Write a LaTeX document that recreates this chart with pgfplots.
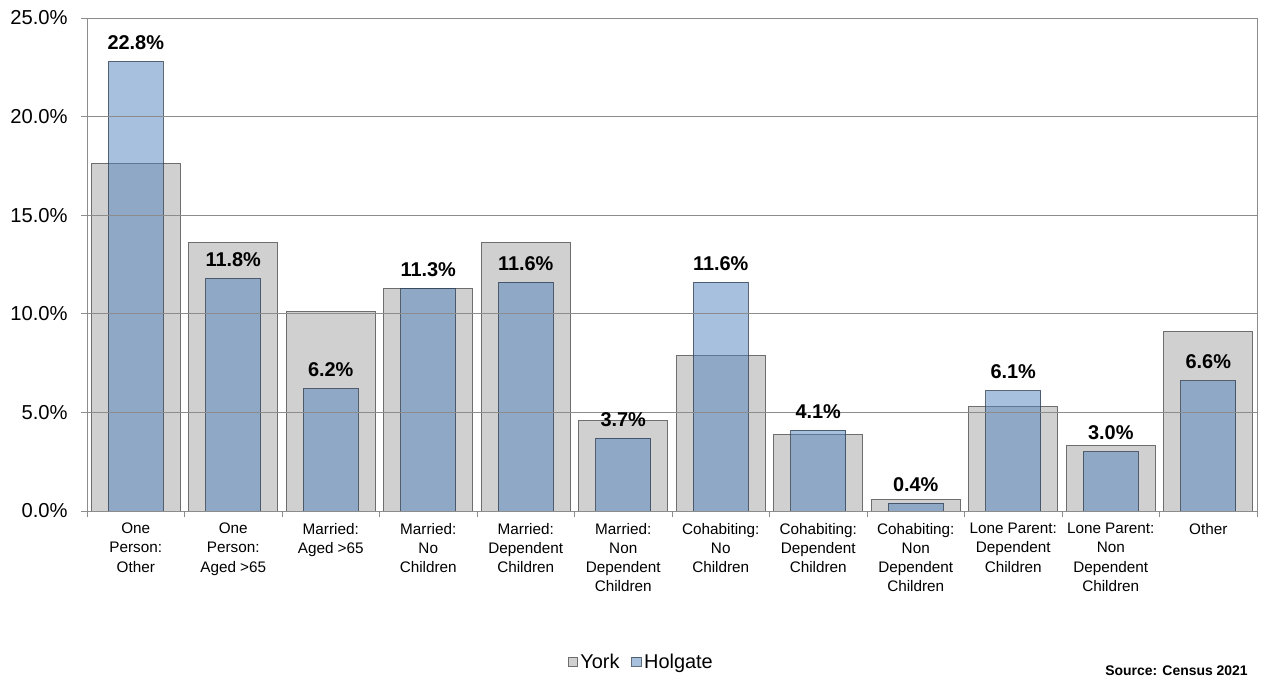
\documentclass[border=0pt]{standalone}
\usepackage{fontspec}
\setmainfont{Liberation Sans}
\usepackage{pgfplots}
\pgfplotsset{compat=1.18}

\definecolor{yorkfill}{HTML}{D0D0D0}
\definecolor{yorkedge}{HTML}{6E6E6E}
\definecolor{holfill}{HTML}{4F81BD}
\definecolor{holedge}{HTML}{2E3B4E}
\definecolor{gridc}{HTML}{8C8C8C}

% Household composition shares (percent)
\pgfplotstableread{
x york holgate
0  17.6 22.8
1  13.6 11.8
2  10.1 6.2
3  11.3 11.3
4  13.6 11.6
5  4.6  3.7
6  7.9  11.6
7  3.9  4.1
8  0.6  0.4
9  5.3  6.1
10 3.3  3.0
11 9.1  6.6
}\households

\begin{document}
\begin{tikzpicture}
\path[use as bounding box] (-65.25bp,-123.75bp) rectangle (882bp,383.25bp);
\begin{axis}[
  name=ax, at={(0,0)}, anchor=south west,
  scale only axis, width=877.5bp, height=369.75bp,
  xmin=-0.5, xmax=11.5, ymin=0, ymax=25,
  axis on top,
  axis line style={gridc},
  ytick={0,5,...,25},
  ymajorgrids, grid style={gridc, line width=0.6pt},
  yticklabel={\pgfmathprintnumber[fixed,fixed zerofill,precision=1]{\tick}\%},
  /pgf/number format/assume math mode=true,
  yticklabel style={font=\fontsize{15.2}{18}\selectfont, black, xshift=-6.5bp},
  tick pos=left,
  tick align=outside,
  major tick length=4.5bp,
  minor tick length=4.5bp,
  tick style={gridc, line width=0.6pt},
  major x tick style={draw=none},
  minor x tick style={draw=gridc},
  xtick={0,...,11},
  minor xtick={-0.5,0.5,...,11.5},
  xticklabels={
    {One\\Person:\\Other},
    {One\\Person:\\Aged >65},
    {Married:\\Aged >65},
    {Married:\\No\\Children},
    {Married:\\Dependent\\Children},
    {Married:\\Non\\Dependent\\Children},
    {Cohabiting:\\No\\Children},
    {Cohabiting:\\Dependent\\Children},
    {Cohabiting:\\Non\\Dependent\\Children},
    {Lone Parent:\\Dependent\\Children},
    {Lone Parent:\\Non\\Dependent\\Children},
    {Other}},
  xticklabel style={align=center, anchor=north, yshift=-1bp,
    font=\fontsize{11.5}{14.5}\selectfont, black},
  legend columns=2,
  legend style={at={(0.474,-0.306)}, anchor=center, draw=none, fill=none,
    font=\fontsize{15}{17}\selectfont,
    /tikz/every even column/.append style={column sep=7bp}},
  legend image code/.code={\draw[#1] (0bp,-3.4bp) rectangle (6.8bp,3.4bp);},
]
\addplot[ybar, bar shift=0pt, bar width=0.913, fill=yorkfill, draw=yorkedge, line width=0.7pt]
  table[x=x, y=york] {\households};
\addlegendentry{York}
\addplot[ybar, bar shift=0pt, bar width=0.564, fill=holfill, fill opacity=0.5,
  draw=holedge, draw opacity=0.75, line width=0.7pt,
  nodes near coords={\pgfmathprintnumber[fixed,fixed zerofill,precision=1]{\pgfplotspointmeta}\%},
  every node near coord/.append style={anchor=south, inner sep=0pt, yshift=8.5bp,
    text=black, text opacity=1, fill opacity=1,
    font=\bfseries\fontsize{15}{18}\selectfont}]
  table[x=x, y=holgate] {\households};
\addlegendentry{Holgate}
\end{axis}
\node[anchor=base east, font=\bfseries\fontsize{10.5}{12}\selectfont, inner sep=0pt]
  at (870.75bp,-123bp) {Source: Census 2021};
\end{tikzpicture}
\end{document}
